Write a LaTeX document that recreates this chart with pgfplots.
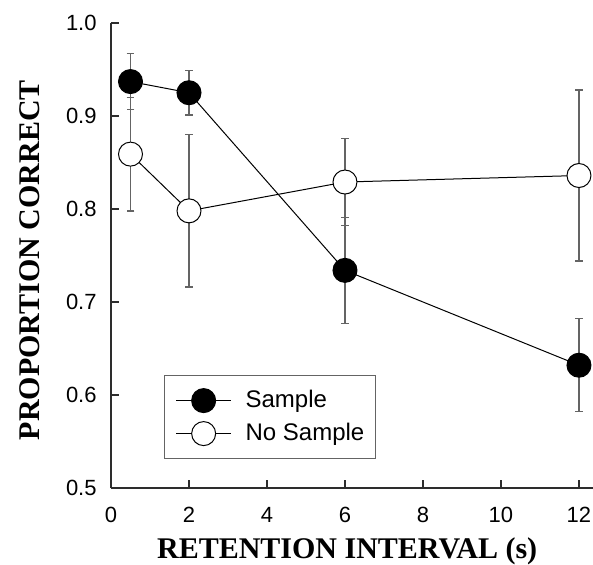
\documentclass[border=0pt]{standalone}
\usepackage{fontspec}
\setmainfont{Liberation Sans}
\newfontfamily\labelfont{Liberation Serif}
\usepackage{pgfplots}
\pgfplotsset{compat=1.18}
\definecolor{errgray}{RGB}{100,100,100}
\definecolor{axisgray}{RGB}{45,45,45}
\begin{document}
\begin{tikzpicture}
\begin{axis}[
    scale only axis,
    width=241pt, height=232.5pt,
    xmin=0, xmax=12.36, ymin=0.5, ymax=1.0,
    axis x line=bottom, axis y line=left,
    axis line style={-, line width=0.8pt, axisgray},
    xtick={0,2,4,6,8,10,12},
    ytick={0.5,0.6,0.7,0.8,0.9,1.0},
    tick align=inside, major tick length=4pt,
    tick style={axisgray, line width=0.8pt},
    /pgf/number format/assume math mode=true,
    ticklabel style={font=\fontsize{11}{13}\selectfont, inner sep=0pt},
    xticklabel style={anchor=north, yshift=-9.5pt},
    yticklabel style={anchor=east, xshift=-7pt,
        /pgf/number format/.cd, fixed, fixed zerofill, precision=1},
    xlabel={\labelfont\bfseries RETENTION INTERVAL (s)},
    ylabel={\labelfont\bfseries PROPORTION CORRECT},
    label style={font=\fontsize{15}{17}\selectfont},
    xlabel style={at={(axis description cs:0.49,-0.1355)}, anchor=center},
    ylabel style={at={(axis description cs:-0.168,0.49)}, anchor=center},
    legend style={at={(axis cs:1.36,0.6215)}, anchor=north west, draw=errgray,
        line width=0.6pt, font=\fontsize{12}{14}\selectfont,
        inner xsep=5.5pt, inner ysep=6.5pt, row sep=4.5pt, column sep=7pt,
        nodes={inner sep=0pt}},
    legend cell align=left,
    legend image code/.code={
        \draw[mark repeat=2, mark phase=2] plot coordinates {(0pt,0pt) (13.75pt,0pt) (27.5pt,0pt)};
    },
    error bars/y dir=both, error bars/y explicit,
    error bars/error bar style={errgray, line width=0.7pt},
    error bars/error mark options={rotate=90, mark size=1.9pt, errgray, line width=0.7pt},
]
\coordinate (sw) at (rel axis cs:0,0);
\addplot[black, line width=0.5pt, mark=*, mark size=6pt, mark options={fill=black}]
    coordinates {
    (0.5,0.937) +- (0,0.030)
    (2,0.925) +- (0,0.024)
    (6,0.734) +- (0,0.057)
    (12,0.632) +- (0,0.050)
};
\addlegendentry{Sample}
\addplot[black, line width=0.5pt, mark=*, mark size=6pt, mark options={fill=white}]
    coordinates {
    (0.5,0.859) +- (0,0.061)
    (2,0.798) +- (0,0.082)
    (6,0.829) +- (0,0.047)
    (12,0.836) +- (0,0.092)
};
\addlegendentry{No Sample}
\end{axis}
\pgfresetboundingbox
\path[use as bounding box] ([xshift=-55.5pt,yshift=-38.5pt]sw) rectangle ++(296.5pt,282.5pt);
\end{tikzpicture}
\end{document}
